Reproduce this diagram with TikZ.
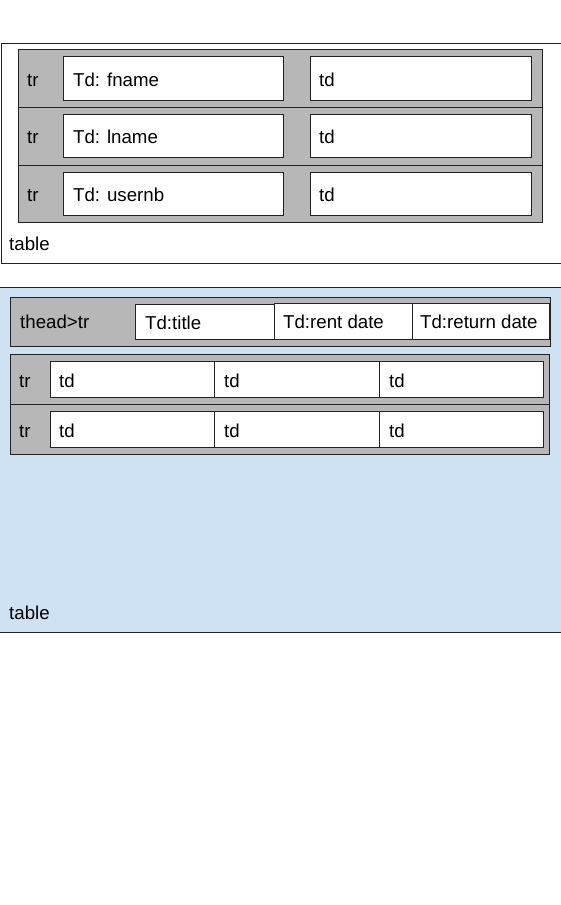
\documentclass[tikz,border=0pt]{standalone}
\usepackage{fontspec}
\setmainfont{Liberation Sans}

\definecolor{trgray}{HTML}{B7B7B7}
\definecolor{tblblue}{HTML}{CFE2F3}
\definecolor{edgecol}{HTML}{222222}

\begin{document}
\begin{tikzpicture}[x=1pt,y=-1pt,
  lbl/.style={anchor=base west,inner sep=0pt,font=\fontsize{18.67}{22}\selectfont},
  tblbox/.style={draw=edgecol,line width=0.9pt},
  trbox/.style={draw=edgecol,fill=trgray,line width=0.9pt},
  tdbox/.style={draw=edgecol,fill=white,line width=0.9pt}]
\clip (0,0) rectangle (561,905);
\fill[white] (0,0) rectangle (561,905);

% first table
\draw[tblbox] (1,43) rectangle (570,263);
\draw[trbox] (18,49) rectangle (542,107);
\draw[trbox] (18,107) rectangle (542,165);
\draw[trbox] (18,165) rectangle (542,222);
\draw[tdbox] (63,56) rectangle (283,100);
\draw[tdbox] (310,56) rectangle (531,100);
\draw[tdbox] (63,114) rectangle (283,157);
\draw[tdbox] (310,114) rectangle (531,157);
\draw[tdbox] (63,172) rectangle (283,215);
\draw[tdbox] (310,172) rectangle (531,215);

\node[lbl] (tra) at (27,86) {tr};
\node[lbl] (trb) at (27,143) {tr};
\node[lbl] (trc) at (27,201) {tr};
\node[lbl] (fname) at (73,86) {Td: fname};
\node[lbl] (lname) at (73,143) {Td: lname};
\node[lbl] (usernb) at (73,201) {Td: usernb};
\node[lbl] (tda) at (319,86) {td};
\node[lbl] (tdb) at (319,143) {td};
\node[lbl] (tdc) at (319,201) {td};
\node[lbl] (tableA) at (9,250) {table};

% second table
\draw[tblbox,fill=tblblue] (-1,287) rectangle (570,632);
\draw[trbox] (10,297) rectangle (550,346);
\draw[tdbox] (135,304) rectangle (274,339);
\draw[tdbox] (274,303) rectangle (412,339);
\draw[tdbox] (412,303) rectangle (549,339);
\node[lbl] (theadtr) at (20,328) {thead>tr};
\node[lbl] (title) at (145,329) {Td:title};
\node[lbl] (rent) at (283,328) {Td:rent date};
\node[lbl] (return) at (420,328) {Td:return date};

\draw[trbox] (10,354) rectangle (549,404);
\draw[trbox] (10,404) rectangle (549,454);
\draw[tdbox] (50,361) rectangle (214,397);
\draw[tdbox] (214,361) rectangle (379,397);
\draw[tdbox] (379,361) rectangle (543,397);
\draw[tdbox] (50,411) rectangle (214,447);
\draw[tdbox] (214,411) rectangle (379,447);
\draw[tdbox] (379,411) rectangle (543,447);

\node[lbl] (trd) at (19,387) {tr};
\node[lbl] (tre) at (19,437) {tr};
\node[lbl] (tdd) at (59,387) {td};
\node[lbl] (tde) at (224,387) {td};
\node[lbl] (tdf) at (389,387) {td};
\node[lbl] (tdg) at (59,437) {td};
\node[lbl] (tdh) at (224,437) {td};
\node[lbl] (tdi) at (389,437) {td};
\node[lbl] (tableB) at (9,619) {table};
\end{tikzpicture}
\end{document}
